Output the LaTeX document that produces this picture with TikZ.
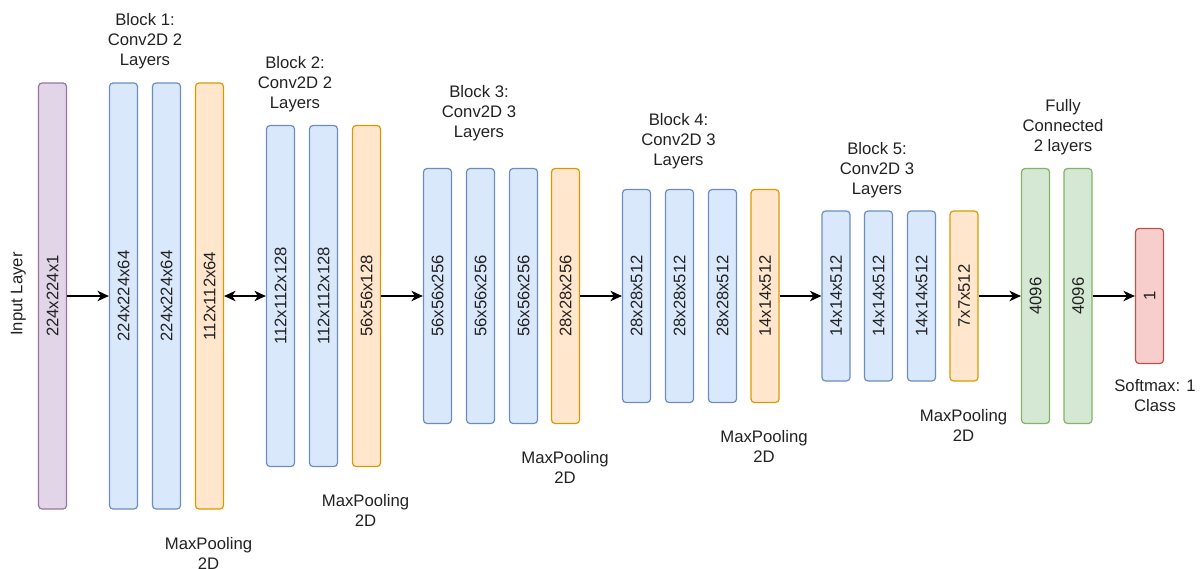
\documentclass[tikz,border=0pt]{standalone}
\usepackage{fontspec}
\setmainfont{Liberation Sans}
\usetikzlibrary{arrows.meta}
\definecolor{purF}{HTML}{E1D5E7}\definecolor{purD}{HTML}{9673A6}
\definecolor{bluF}{HTML}{DAE8FC}\definecolor{bluD}{HTML}{6C8EBF}
\definecolor{orgF}{HTML}{FFE6CC}\definecolor{orgD}{HTML}{D79B00}
\definecolor{grnF}{HTML}{D5E8D4}\definecolor{grnD}{HTML}{82B366}
\definecolor{redF}{HTML}{F8CECC}\definecolor{redD}{HTML}{B85450}
\definecolor{txt}{HTML}{222222}
\newcommand{\dfont}{\fontsize{16.7}{20}\selectfont}
\tikzset{
  layer/.style={draw, rounded corners=3.5pt, line width=1.2pt, minimum width=28pt, inner sep=0pt},
  inlayer/.style={layer, fill=purF, draw=purD},
  convlayer/.style={layer, fill=bluF, draw=bluD},
  poollayer/.style={layer, fill=orgF, draw=orgD},
  fclayer/.style={layer, fill=grnF, draw=grnD},
  outlayer/.style={layer, fill=redF, draw=redD},
  lbl/.style={rotate=90, font=\dfont, text=txt, inner sep=0pt},
  caption/.style={font=\dfont, text=txt, align=center, inner sep=0pt},
  tip/.tip={Stealth[length=11.5pt, width=10.5pt, inset=3.5pt]},
  conn/.style={line width=1.4pt, -tip},
  bconn/.style={line width=1.4pt, tip-tip}
}
\begin{document}
\begin{tikzpicture}[x=1pt, y=-1pt]
\useasboundingbox (0,0) rectangle (1201,568);
% input
\node[inlayer, minimum height=426pt, label={[lbl]center:224x224x1}] (in) at (52.5,296) {};
\node[lbl] (inlbl) at (18.3,294) {Input Layer};
% block 1
\node[convlayer, minimum height=426pt, label={[lbl]center:224x224x64}] (b1a) at (123.5,296) {};
\node[convlayer, minimum height=426pt, label={[lbl]center:224x224x64}] (b1b) at (166.5,296) {};
\node[poollayer, minimum height=426pt, label={[lbl]center:112x112x64}] (b1p) at (209.5,296) {};
% block 2
\node[convlayer, minimum height=341pt, label={[lbl]center:112x112x128}] (b2a) at (280.5,296) {};
\node[convlayer, minimum height=341pt, label={[lbl]center:112x112x128}] (b2b) at (323.5,296) {};
\node[poollayer, minimum height=341pt, label={[lbl]center:56x56x128}] (b2p) at (366.5,296) {};
% block 3
\node[convlayer, minimum height=255pt, label={[lbl]center:56x56x256}] (b3a) at (437.5,296) {};
\node[convlayer, minimum height=255pt, label={[lbl]center:56x56x256}] (b3b) at (480.5,296) {};
\node[convlayer, minimum height=255pt, label={[lbl]center:56x56x256}] (b3c) at (523.5,296) {};
\node[poollayer, minimum height=255pt, label={[lbl]center:28x28x256}] (b3p) at (565.5,296) {};
% block 4
\node[convlayer, minimum height=213pt, label={[lbl]center:28x28x512}] (b4a) at (636.5,296) {};
\node[convlayer, minimum height=213pt, label={[lbl]center:28x28x512}] (b4b) at (679.5,296) {};
\node[convlayer, minimum height=213pt, label={[lbl]center:28x28x512}] (b4c) at (722.5,296) {};
\node[poollayer, minimum height=213pt, label={[lbl]center:14x14x512}] (b4p) at (765,296) {};
% block 5
\node[convlayer, minimum height=170pt, label={[lbl]center:14x14x512}] (b5a) at (836,296) {};
\node[convlayer, minimum height=170pt, label={[lbl]center:14x14x512}] (b5b) at (878.5,296) {};
\node[convlayer, minimum height=170pt, label={[lbl]center:14x14x512}] (b5c) at (921.5,296) {};
\node[poollayer, minimum height=170pt, label={[lbl]center:7x7x512}] (b5p) at (964,296) {};
% fully connected
\node[fclayer, minimum height=255pt, label={[lbl]center:4096}] (fc1) at (1035.5,296) {};
\node[fclayer, minimum height=255pt, label={[lbl]center:4096}] (fc2) at (1078,296) {};
% output
\node[outlayer, minimum height=135pt, label={[lbl]center:1}] (sm) at (1149.5,296) {};
% captions
\node[caption] (c1) at (145,41.5) {Block 1:\\Conv2D 2\\Layers};
\node[caption] (c2) at (295,84) {Block 2:\\Conv2D 2\\Layers};
\node[caption] (c3) at (479,113.5) {Block 3:\\Conv2D 3\\Layers};
\node[caption] (c4) at (678.5,141.5) {Block 4:\\Conv2D 3\\Layers};
\node[caption] (c5) at (877,170.5) {Block 5:\\Conv2D 3\\Layers};
\node[caption] (cfc) at (1063,127.5) {Fully\\Connected\\2 layers};
\node[caption] (m1) at (208.5,553.5) {MaxPooling\\2D};
\node[caption] (m2) at (365.5,510) {MaxPooling\\2D};
\node[caption] (m3) at (565,467) {MaxPooling\\2D};
\node[caption] (m4) at (764,446) {MaxPooling\\2D};
\node[caption] (m5) at (963.5,425) {MaxPooling\\2D};
\node[caption] (cs) at (1155,396) {Softmax: 1\\Class};
% connectors
\draw[conn] (in.east) -- (b1a.west);
\draw[bconn] (b1p.east) -- (b2a.west);
\draw[conn] (b2p.east) -- (b3a.west);
\draw[conn] (b3p.east) -- (b4a.west);
\draw[conn] (b4p.east) -- (b5a.west);
\draw[conn] (b5p.east) -- (fc1.west);
\draw[conn] (fc2.east) -- (sm.west);
\end{tikzpicture}
\end{document}
